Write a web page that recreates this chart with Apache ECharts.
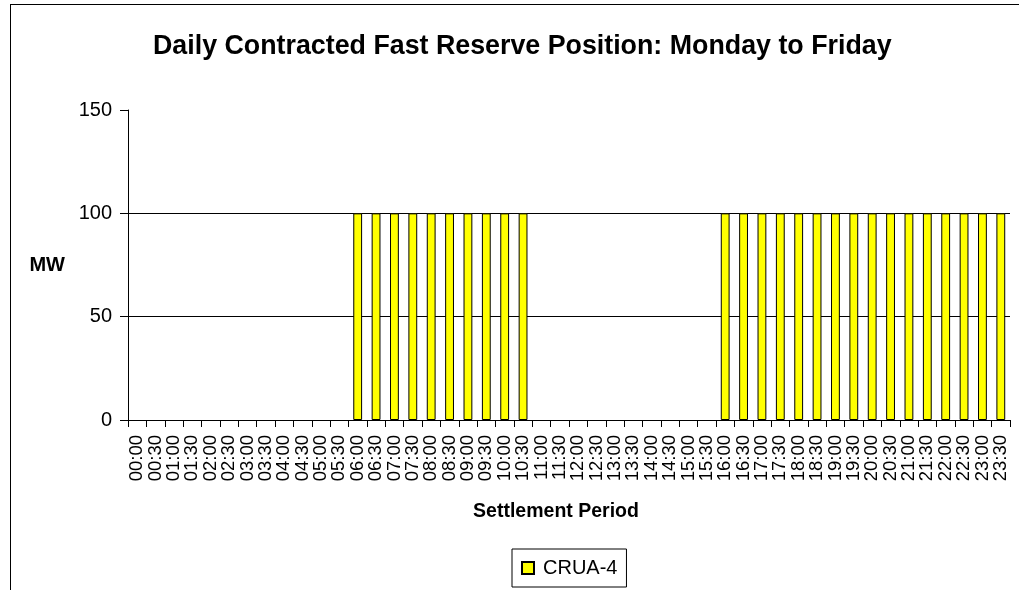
<!DOCTYPE html>
<html><head><meta charset="utf-8">
<script src="https://cdn.jsdelivr.net/npm/echarts@6/dist/echarts.min.js"></script>
<style>html,body{margin:0;padding:0;background:#fff}#c{width:1019px;height:590px}
#frame{position:absolute;left:10px;top:4px;width:1100px;height:700px;border:1px solid #000;pointer-events:none}</style>
</head><body><div id="c"></div><div id="frame"></div>
<script>
var categories = [];
for (var h = 0; h < 24; h++) { var hh = (h < 10 ? '0' : '') + h; categories.push(hh + ':00'); categories.push(hh + ':30'); }
var seriesName = 'CRUA-4';
var values = [
  0,0,0,0,0,0,0,0,0,0,0,0,
  100,100,100,100,100,100,100,100,100,100,
  0,0,0,0,0,0,0,0,0,0,
  100,100,100,100,100,100,100,100,100,100,100,100,100,100,100,100
];
var yTicks = [0, 50, 100, 150];
var font = 'Liberation Sans, Arial, sans-serif';
var barData = values.map(function (v) {
  return v === 0 ? { value: v, itemStyle: { borderWidth: 0 } } : v;
});
var chart = echarts.init(document.getElementById('c'));
chart.setOption({
  animation: false,
  backgroundColor: '#fff',
  title: { text: 'Daily Contracted Fast Reserve Position: Monday to Friday', left: 148, top: 28,
    textStyle: { fontFamily: font, fontSize: 26.8, fontWeight: 'bold', color: '#000' } },
  grid: { left: 128, right: 9, top: 110, bottom: 170, containLabel: false },
  legend: { data: [{ name: seriesName, icon: 'rect' }], left: 512, top: 549, itemWidth: 12, itemHeight: 12, itemGap: 5,
    padding: [9, 9, 9, 9], borderColor: '#000', borderWidth: 1,
    textStyle: { fontFamily: font, fontSize: 20, color: '#000', padding: [0, 0, 0, 4] } },
  xAxis: { type: 'category', data: categories, boundaryGap: true,
    name: 'Settlement Period', nameLocation: 'middle', nameGap: 82,
    nameTextStyle: { fontFamily: font, fontSize: 19.5, fontWeight: 'bold', color: '#000', padding: [0, 26, 0, 0] },
    axisLine: { lineStyle: { color: '#000', width: 1 } },
    axisTick: { show: true, alignWithLabel: false, length: 7, lineStyle: { color: '#000' } },
    axisLabel: { interval: 0, rotate: 90, fontFamily: font, fontSize: 18.5, color: '#000', margin: 15 } },
  yAxis: { type: 'value', min: 0, max: 150, interval: 50,
    name: 'MW', nameLocation: 'middle', nameRotate: 0, nameGap: 63,
    nameTextStyle: { fontFamily: font, fontSize: 20, fontWeight: 'bold', color: '#000' },
    axisLine: { show: true, lineStyle: { color: '#000', width: 1 } },
    axisTick: { show: true, length: 8, lineStyle: { color: '#000' } },
    axisLabel: { fontFamily: font, fontSize: 20, color: '#000', margin: 16,
      formatter: function (v) { return yTicks.indexOf(v) >= 0 ? String(v) : ''; } },
    splitLine: { show: true, lineStyle: { color: ['rgba(0,0,0,0)', '#000', '#000', 'rgba(0,0,0,0)'], width: 1 } } },
  series: [{ name: seriesName, type: 'bar', data: barData, barWidth: '48%',
    itemStyle: { color: '#ffff00', borderColor: '#000', borderWidth: 1 } }]
});
</script></body></html>
